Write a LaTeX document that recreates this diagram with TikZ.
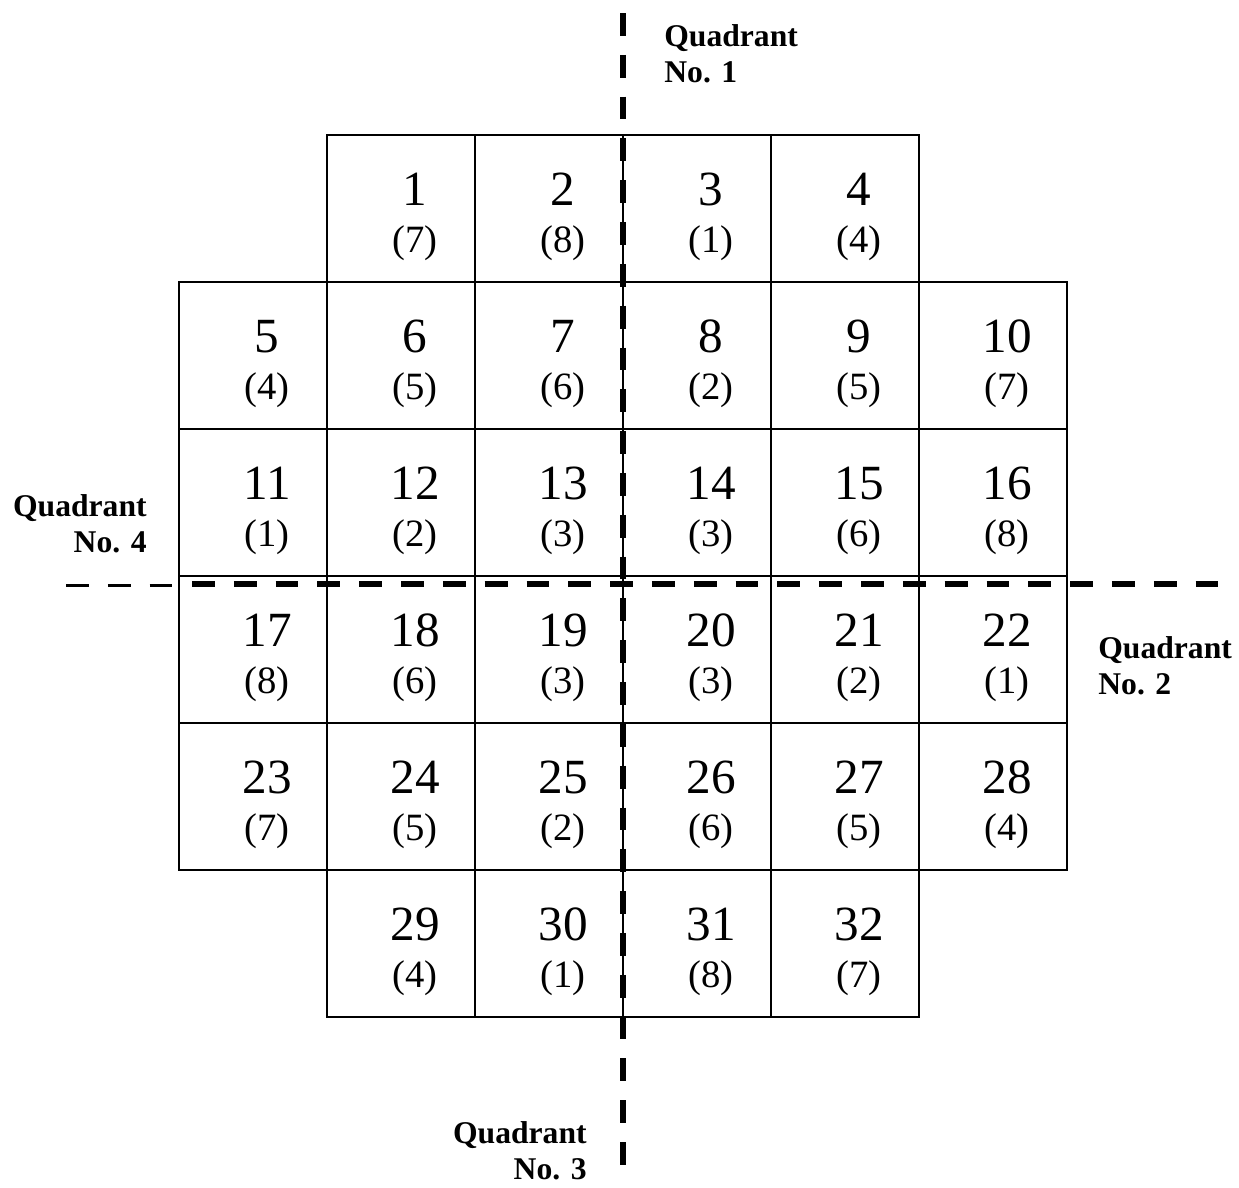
\documentclass[tikz,border=0pt]{standalone}
\usepackage{fontspec}
\setmainfont{Liberation Serif}

\tikzset{
	cell/.style={draw,line width=1.1pt,minimum width=2.96cm,minimum height=2.94cm,inner sep=0pt},
	cellnum/.style={anchor=base,inner sep=0pt,font=\fontsize{28}{30}\selectfont},
	cellsub/.style={anchor=base,inner sep=0pt,font=\fontsize{22}{24}\selectfont},
	quadlabel/.style={inner sep=0pt,font=\fontsize{18}{20.5}\selectfont\bfseries},
	splitline/.style={line width=3.4pt,dash pattern=on 13pt off 10.8pt},
	splitthin/.style={line width=1.7pt,dash pattern=on 13pt off 10.8pt}
}

\begin{document}
\begin{tikzpicture}[x=0.02cm,y=-0.02cm]
	\useasboundingbox (0,0) rectangle (1239,1187);
	% assemblies: number/(position)/column/row
	\foreach \n/\s/\c/\r in {1/7/2/1,2/8/3/1,3/1/4/1,4/4/5/1,
		5/4/1/2,6/5/2/2,7/6/3/2,8/2/4/2,9/5/5/2,10/7/6/2,
		11/1/1/3,12/2/2/3,13/3/3/3,14/3/4/3,15/6/5/3,16/8/6/3,
		17/8/1/4,18/6/2/4,19/3/3/4,20/3/4/4,21/2/5/4,22/1/6/4,
		23/7/1/5,24/5/2/5,25/2/3/5,26/6/4/5,27/5/5/5,28/4/6/5,
		29/4/2/6,30/1/3/6,31/8/4/6,32/7/5/6}{
		\node[cell] (c\n) at ({253+148*(\c-1)},{208.5+147*(\r-1)}) {};
		\node[cellnum] (n\n) at ({267+148*(\c-1)},{205.5+147*(\r-1)}) {\n};
		\node[cellsub] (s\n) at ({267+148*(\c-1)},{252.5+147*(\r-1)}) {(\s)};
	}
	% quadrant boundaries
	\coordinate (vtop) at (623,13);
	\coordinate (vbot) at (623,1172);
	\coordinate (hleft) at (66,585);
	\coordinate (hjoin) at (173,585);
	\coordinate (hmid) at (192,584);
	\coordinate (hright) at (1225,584);
	\draw[splitline] (vtop) -- (vbot);
	\draw[splitthin] (hleft) -- (hjoin);
	\draw[splitline] (hmid) -- (hright);
	% labels
	\node[quadlabel,anchor=north west,align=left] (q1) at (664,24) {Quadrant\\No. 1};
	\node[quadlabel,anchor=north west,align=left] (q2) at (1098,636) {Quadrant\\No. 2};
	\node[quadlabel,anchor=north east,align=right] (q3) at (587,1121) {Quadrant\\No. 3};
	\node[quadlabel,anchor=north east,align=right] (q4) at (147,494) {Quadrant\\No. 4};
\end{tikzpicture}
\end{document}
